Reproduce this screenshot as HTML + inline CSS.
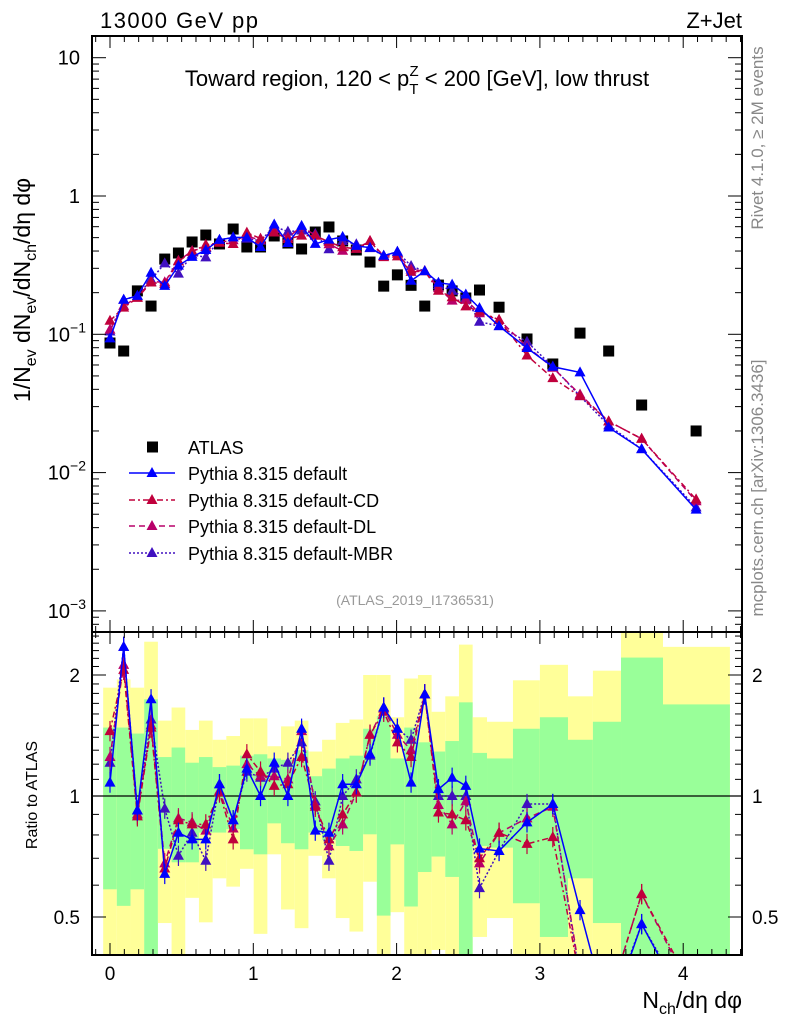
<!DOCTYPE html>
<html><head><meta charset="utf-8"><style>
body{margin:0;background:#fff;}
svg{display:block;font-family:"Liberation Sans",sans-serif;}
</style></head><body>
<svg id="chart" width="786" height="1024" viewBox="0 0 786 1024" xmlns="http://www.w3.org/2000/svg">
<g id="bands"></g>
<g id="marks"></g>
<g id="axes"></g>
<text x="100" y="28" font-size="22" textLength="158">13000 GeV pp</text>
<text x="742" y="28" font-size="22" text-anchor="end">Z+Jet</text>
<text x="417" y="86" font-size="22" text-anchor="middle">Toward region, 120 &lt; p<tspan font-size="15" dy="8">T</tspan><tspan font-size="15" dx="-9" dy="-18">Z</tspan><tspan dy="10"> &lt; 200 [GeV], low thrust</tspan></text>
<text transform="translate(30,290) rotate(-90)" font-size="23" text-anchor="middle">1/N<tspan font-size="16" dy="6">ev</tspan><tspan dy="-6"> dN</tspan><tspan font-size="16" dy="6">ev</tspan><tspan dy="-6">/dN</tspan><tspan font-size="16" dy="6">ch</tspan><tspan dy="-6">/dη dφ</tspan></text>
<text transform="translate(37,795) rotate(-90)" font-size="16" text-anchor="middle">Ratio to ATLAS</text>
<text x="742" y="1008" font-size="23" text-anchor="end">N<tspan font-size="16" dy="6">ch</tspan><tspan dy="-6">/dη dφ</tspan></text>
<text transform="translate(763,138) rotate(-90)" font-size="17" fill="#888" text-anchor="middle">Rivet 4.1.0, ≥ 2M events</text>
<text transform="translate(763,488) rotate(-90)" font-size="17" fill="#888" text-anchor="middle">mcplots.cern.ch [arXiv:1306.3436]</text>
<text x="415" y="605" font-size="14" fill="#999" text-anchor="middle">(ATLAS_2019_I1736531)</text>
<g id="legend"></g>
</svg>
<script>
const xVals = [0,0.0955,0.191,0.2865,0.382,0.4775,0.573,0.6685,0.764,0.8595,0.955,1.0505,1.146,1.2415,1.337,1.4325,1.528,1.6235,1.719,1.8145,1.91,2.0055,2.101,2.1965,2.292,2.3875,2.483,2.5785,2.715,2.91,3.09,3.28,3.48,3.71,4.09];
const binLo = [-0.0477,0.0477,0.1432,0.2387,0.3342,0.4297,0.5252,0.6207,0.7162,0.8117,0.9072,1.0027,1.0982,1.1937,1.2892,1.3847,1.4802,1.5757,1.6712,1.7667,1.8622,1.9577,2.0532,2.1487,2.2442,2.3397,2.4352,2.5307,2.631,2.812,3.0,3.196,3.37,3.566,3.859];
const binHi = [0.0477,0.1432,0.2387,0.3342,0.4297,0.5252,0.6207,0.7162,0.8117,0.9072,1.0027,1.0982,1.1937,1.2892,1.3847,1.4802,1.5757,1.6712,1.7667,1.8622,1.9577,2.0532,2.1487,2.2442,2.3397,2.4352,2.5307,2.631,2.812,3.0,3.196,3.37,3.566,3.859,4.326];
const atlas = [0.0865,0.0757,0.206,0.160,0.350,0.387,0.465,0.522,0.45,0.577,0.428,0.428,0.514,0.457,0.414,0.549,0.597,0.473,0.407,0.333,0.223,0.269,0.226,0.160,0.227,0.206,0.183,0.209,0.157,0.0925,0.061,0.102,0.0757,0.0308,0.020];
const ratioDefault = [1.08,2.35,0.92,1.74,0.64,0.81,0.78,0.78,1.07,0.87,1.17,1.0,1.21,1.0,1.47,0.82,0.81,1.07,1.07,1.27,1.66,1.47,1.08,1.79,1.04,1.11,1.06,0.74,0.73,0.86,0.955,0.52,0.28,0.48,0.27];
const ratioCD = [1.45,2.06,0.89,1.48,0.66,0.87,0.85,0.85,1.02,0.78,1.27,1.15,1.06,1.07,1.25,0.94,0.78,0.90,1.02,1.42,1.62,1.36,1.25,1.79,0.91,0.90,0.87,0.70,0.81,0.76,0.79,0.35,0.31,0.57,0.32];
const ratioDL = [1.25,2.12,0.90,1.5,0.68,0.88,0.86,0.82,1.03,0.83,1.2,1.12,1.12,1.1,1.45,0.95,0.75,0.85,1.02,1.42,1.65,1.42,1.3,1.79,0.95,0.85,0.97,0.68,0.81,0.88,0.94,0.36,0.31,0.57,0.31];
const ratioMBR = [1.21,2.35,0.92,1.55,0.93,0.71,0.81,0.69,1.07,0.87,1.15,1.11,1.17,1.21,1.36,0.97,0.69,1.0,1.10,1.26,1.66,1.47,1.38,1.79,1.0,1.0,1.0,0.59,0.73,0.955,0.955,0.35,0.29,0.48,0.28];
const band2Hi = [1.86,1.95,1.86,2.42,1.54,1.66,1.46,1.54,1.38,1.41,1.56,1.56,1.33,1.49,1.54,1.29,1.38,1.52,1.55,2.0,2.0,1.57,1.96,2.0,1.62,1.77,2.38,1.57,1.53,1.94,2.12,1.77,2.05,2.7,2.35];
const band1Hi = [1.48,1.48,1.43,1.74,1.25,1.32,1.21,1.25,1.18,1.19,1.26,1.27,1.24,1.23,1.30,1.12,1.17,1.24,1.26,1.47,1.58,1.24,1.48,1.36,1.29,1.37,1.71,1.28,1.24,1.47,1.57,1.38,1.53,2.21,1.69];
const band1Lo = [0.586,0.533,0.586,0.3,0.739,0.684,0.684,0.811,0.811,0.827,0.737,0.716,0.855,0.763,0.737,0.811,0.777,0.751,0.730,0.803,0.504,0.758,0.531,0.647,0.707,0.629,0.3,0.751,0.744,0.541,0.446,0.624,0.483,0.3,0.3];
const band2Lo = [0.3,0.3,0.3,0.3,0.483,0.3,0.558,0.485,0.624,0.595,0.659,0.454,0.716,0.522,0.469,0.710,0.624,0.497,0.460,0.612,0.3,0.514,0.3,0.3,0.414,0.3,0.3,0.446,0.497,0.3,0.3,0.3,0.3,0.3,0.3];
const yTicksTop = [10,1,0.1,0.01,0.001];
const yTickLabelsTop = ["10","1","10^-1","10^-2","10^-3"];
const xTicks = [0,1,2,3,4];
const ratioTicks = [0.5,1,2];

const NS="http://www.w3.org/2000/svg";
const L=92,R=742,T=36,MID=632,B=955;
const X0=110,XS=143.3;
const sx=v=>X0+v*XS;
const sy=v=>196-138.3*Math.log10(v);
const sr=v=>796-121*Math.log2(v);
function mk(tag,attrs,parent){const e=document.createElementNS(NS,tag);for(const k in attrs)e.setAttribute(k,attrs[k]);parent.appendChild(e);return e;}
const bands=document.getElementById('bands'),marks=document.getElementById('marks'),axes=document.getElementById('axes'),legend=document.getElementById('legend');
const svgEl=document.getElementById('chart');
const defs=mk('defs',{},svgEl);
const cp=mk('clipPath',{id:'ratioClip'},defs);mk('rect',{x:L,y:MID,width:R-L,height:B-MID},cp);
const cpt=mk('clipPath',{id:'topClip'},defs);mk('rect',{x:L,y:T,width:R-L,height:MID-T},cpt);
bands.setAttribute('clip-path','url(#ratioClip)');

for(let i=0;i<xVals.length;i++){
  const x1=sx(binLo[i]),x2=sx(binHi[i]);
  const y=mk('rect',{x:x1,y:sr(band2Hi[i]),width:x2-x1,height:sr(band2Lo[i])-sr(band2Hi[i]),fill:'#ffff99'},bands);
  
  
  const g=mk('rect',{x:x1,y:sr(band1Hi[i]),width:x2-x1,height:sr(band1Lo[i])-sr(band1Hi[i]),fill:'#99ff99'},bands);
  
  
}
const one=mk('line',{x1:L,x2:R,y1:sr(1),y2:sr(1),stroke:'#000','stroke-width':1.3},marks);



const series=[
 {name:'default',r:ratioDefault,c:'#0000ff',dash:''},
 {name:'default-CD',r:ratioCD,c:'#c0003c',dash:'6 3 2 3'},
 {name:'default-DL',r:ratioDL,c:'#b8006a',dash:'6 4'},
 {name:'default-MBR',r:ratioMBR,c:'#4010c0',dash:'2 2'}
];
function tri(x,y,c,parent,nm){const p=mk('polygon',{points:`${x},${y-6} ${x-5.5},${y+4} ${x+5.5},${y+4}`,fill:c},parent);
 
 return p;}
const gTop=mk('g',{'clip-path':'url(#topClip)'},marks);
const gRat=mk('g',{'clip-path':'url(#ratioClip)'},marks);
atlas.forEach((v,i)=>{const s=mk('rect',{x:sx(xVals[i])-5.5,y:sy(v)-5.5,width:11,height:11,fill:'#000'},gTop);
 
 });
series.slice().reverse().forEach(s=>{
  const topPts=s.r.map((r,i)=>[sx(xVals[i]),sy(r*atlas[i])]);
  const rPts=s.r.map((r,i)=>[sx(xVals[i]),sr(r)]);
  const pl=mk('polyline',{points:topPts.map(p=>p.join(',')).join(' '),fill:'none',stroke:s.c,'stroke-width':1.5,'stroke-dasharray':s.dash},gTop);
  
  
  const pr=mk('polyline',{points:rPts.map(p=>p.join(',')).join(' '),fill:'none',stroke:s.c,'stroke-width':1.5,'stroke-dasharray':s.dash},gRat);
  
  
  s.r.forEach((r,i)=>{
    const x=sx(xVals[i]);
    const e=mk('line',{x1:x,x2:x,y1:sr(r*1.06),y2:sr(r/1.06),stroke:s.c,'stroke-width':1.2},gRat);
    
    
    tri(x,sy(r*atlas[i]),s.c,gTop,'point-'+s.name);
    tri(x,sr(r),s.c,gRat,'ratio-point-'+s.name);
  });
});
[[T,MID],[MID,B]].forEach(([a,b],k)=>{const f=mk('rect',{x:L,y:a,width:R-L,height:b-a,fill:'none',stroke:'#000','stroke-width':2},axes);
 
 });
for(let v=-0.1;v<=4.41;v+=0.1){const x=sx(v);if(x<L||x>R)continue;
  const major=Math.abs(v-Math.round(v))<1e-6;const len=major?12:6;
  [[T,1],[MID,-1],[MID,1],[B,-1]].forEach(([y,d])=>mk('line',{x1:x,x2:x,y1:y,y2:y+d*len,stroke:'#000','stroke-width':1},axes));}
xTicks.forEach(v=>{const t=mk('text',{x:sx(v),y:980,'font-size':19,'text-anchor':'middle'},axes);t.textContent=String(v);
 
 });
for(let d=-4;d<=1;d++){for(let m=1;m<10;m++){const v=m*Math.pow(10,d);const y=sy(v);if(y<T||y>MID)continue;
  const len=m===1?14:7;[[L,1],[R,-1]].forEach(([x,s])=>mk('line',{x1:x,x2:x+s*len,y1:y,y2:y,stroke:'#000','stroke-width':1},axes));}}
yTicksTop.forEach((v,i)=>{const lab=yTickLabelsTop[i];const t=mk('text',{x:80,y:sy(v)+7,'font-size':20,'text-anchor':'end'},axes);
  if(lab.includes('^')){const [b,e]=lab.split('^');t.textContent=b;const ts=mk('tspan',{'font-size':14,dy:-9},t);ts.textContent=e.replace('-','−');t.setAttribute('x',86);}
  else t.textContent=lab;
  
  });
for(let v=0.4;v<=2.6;v+=0.1){const y=sr(v);if(y<MID||y>B)continue;const major=[0.5,1,2].some(q=>Math.abs(q-v)<1e-6);
  const len=major?14:7;[[L,1],[R,-1]].forEach(([x,s])=>mk('line',{x1:x,x2:x+s*len,y1:y,y2:y,stroke:'#000','stroke-width':1},axes));}
ratioTicks.forEach(v=>{[[80,'end'],[752,'start']].forEach(([x,a])=>{const t=mk('text',{x:x,y:sr(v)+7,'font-size':19,'text-anchor':a},axes);t.textContent=String(v);
 
 });});
const ly=[447,473,500,526,553];
const sq=mk('rect',{x:147,y:ly[0]-5.5,width:11,height:11,fill:'#000'},legend);


const lt=mk('text',{x:188,y:ly[0]+7,'font-size':18},legend);lt.textContent='ATLAS';


series.forEach((s,k)=>{const y=ly[k+1];
  const ln=mk('line',{x1:129,x2:175,y1:y,y2:y,stroke:s.c,'stroke-width':1.5,'stroke-dasharray':s.dash},legend);
  
  
  tri(152,y,s.c,legend,'legend-marker');
  const t=mk('text',{x:188,y:y+7,'font-size':18},legend);t.textContent='Pythia 8.315 '+s.name;
  
  });
</script>
</body></html>
